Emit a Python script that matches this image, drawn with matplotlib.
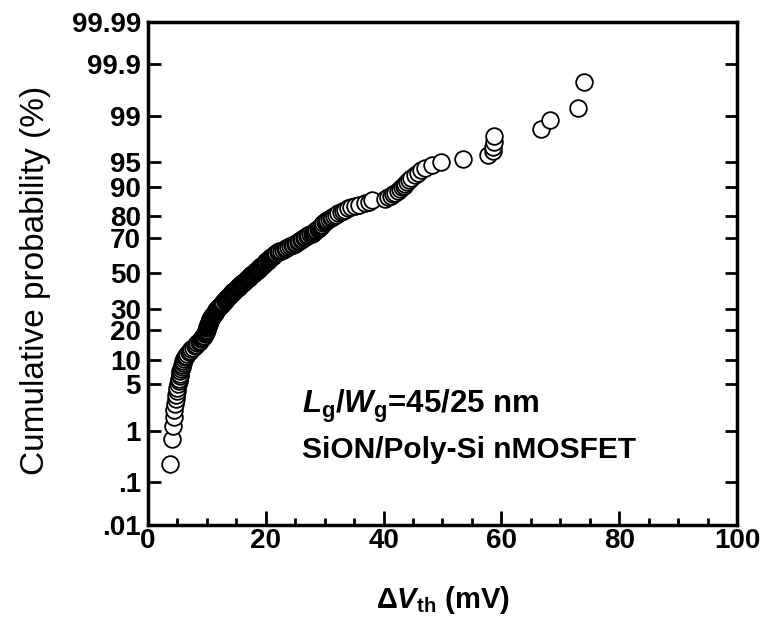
import math
import numpy as np
import matplotlib
matplotlib.use("Agg")
import matplotlib.pyplot as plt

# Delta Vth of each device, sorted (mV)
dvth = [
    3.8, 4.1, 4.3, 4.4, 4.5, 4.6, 4.7, 4.8, 4.9, 5.0,
    5.1, 5.2, 5.3, 5.4, 5.5, 5.5, 5.6, 5.7, 5.8, 5.9,
    6.0, 6.1, 6.3, 6.5, 6.7, 6.9, 7.1, 7.3, 7.6, 7.9,
    8.1, 8.3, 8.6, 8.8, 9.0, 9.2, 9.4, 9.5, 9.6, 9.7,
    9.8, 9.9, 10.0, 10.0, 10.1, 10.2, 10.2, 10.3, 10.4, 10.4, 10.5, 10.6, 10.6,
    10.7, 10.8, 10.9, 11.0, 11.2, 11.3, 11.4, 11.5, 11.6, 11.8, 11.9, 12.0, 12.2,
    12.3, 12.4, 12.6, 12.7, 12.8, 13.0, 13.1, 13.2, 13.4, 13.5, 13.6, 13.8, 13.9, 14.1,
    14.2, 14.3, 14.5, 14.6, 14.8, 14.9, 15.1, 15.2, 15.4, 15.5, 15.7, 15.8, 16.0, 16.1, 16.3, 16.4, 16.6,
    16.8, 16.9, 17.1, 17.2, 17.4, 17.5, 17.7, 17.8, 18.0, 18.2, 18.3, 18.5, 18.6, 18.8, 18.9, 19.1, 19.2,
    19.4, 19.5, 19.7, 19.8, 20.0, 20.1, 20.3, 20.4, 20.6, 20.8, 20.9, 21.1, 21.2, 21.4, 21.6, 21.8, 22.0,
    22.3, 22.6, 22.9, 23.2, 23.5, 23.8, 24.1, 24.4, 24.7, 25.0,
    25.2, 25.5, 25.7, 26.0, 26.2, 26.5, 26.7, 27.0, 27.2, 27.5, 27.8,
    28.0, 28.2, 28.4, 28.6, 28.8, 29.0, 29.2, 29.4, 29.6, 29.8, 30.0, 30.2,
    30.4, 30.7, 31.0, 31.3, 31.6, 31.9,
    32.3, 32.7, 33.1, 33.5, 33.9,
    34.5, 35.2, 35.9,
    36.8, 37.5, 38.0,
    40.3, 40.8,
    41.2, 41.6, 42.0, 42.5,
    42.8, 43.1, 43.4, 43.7, 44.0, 44.3, 44.7,
    45.3, 45.9, 46.4, 47.0,
    48.2, 49.7,
    53.5, 57.8, 58.6, 58.6, 58.7, 58.8, 66.8, 68.2, 73.0, 74.0,
]

prob_ticks = [0.01, 0.1, 1, 5, 10, 20, 30, 50, 70, 80, 90, 95, 99, 99.9, 99.99]
prob_labels = [".01", ".1", "1", "5", "10", "20", "30", "50", "70", "80",
               "90", "95", "99", "99.9", "99.99"]
x_ticks = [0, 20, 40, 60, 80, 100]

FONT = ["Liberation Sans", "DejaVu Sans"]
plt.rcParams["font.family"] = FONT
plt.rcParams["mathtext.fontset"] = "custom"
plt.rcParams["mathtext.rm"] = "Liberation Sans:bold"
plt.rcParams["mathtext.it"] = "Liberation Sans:italic:bold"
plt.rcParams["mathtext.bf"] = "Liberation Sans:bold"

# inverse normal cdf (Acklam's rational approximation), percent in
A = [-3.969683028665376e+01, 2.209460984245205e+02, -2.759285104469687e+02,
     1.383577518672690e+02, -3.066479806614716e+01, 2.506628277459239e+00]
B = [-5.447609879822406e+01, 1.615858368580409e+02, -1.556989798598866e+02,
     6.680131188771972e+01, -1.328068155288572e+01]
C = [-7.784894002430293e-03, -3.223964580411365e-01, -2.400758277161838e+00,
     -2.549671010115305e+00, 4.374664141464968e+00, 2.938163982698783e+00]
D = [7.784695709041462e-03, 3.224671290700398e-01, 2.445134137142996e+00,
     3.754408661907416e+00]


def ppf(v):
    p = np.clip(np.asarray(v, dtype=float) / 100.0, 1e-12, 1 - 1e-12)
    plow = 0.02425
    with np.errstate(all="ignore"):
        q = np.sqrt(-2 * np.log(np.where(p < 0.5, p, 1 - p)))
        tail = (((((C[0] * q + C[1]) * q + C[2]) * q + C[3]) * q + C[4]) * q + C[5]) / \
               ((((D[0] * q + D[1]) * q + D[2]) * q + D[3]) * q + 1)
        tail = np.where(p < 0.5, tail, -tail)
        qc = p - 0.5
        r = qc * qc
        mid = (((((A[0] * r + A[1]) * r + A[2]) * r + A[3]) * r + A[4]) * r + A[5]) * qc / \
              (((((B[0] * r + B[1]) * r + B[2]) * r + B[3]) * r + B[4]) * r + 1)
    return np.where((p < plow) | (p > 1 - plow), tail, mid)


_erf = np.vectorize(math.erf)


def cdf(z):
    z = np.asarray(z, dtype=float)
    return 50.0 * (1 + _erf(z / math.sqrt(2)))


n = len(dvth)
prob = (np.arange(1, n + 1) - 0.5) / n * 100  # cumulative probability (%)

fig = plt.figure(figsize=(7.6, 6.21), dpi=100)
ax = fig.add_axes([0.1947, 0.155, 0.775, 0.81])
ax.set_yscale("function", functions=(ppf, cdf))

ax.plot(dvth, prob, "o", ls="none", ms=12, mfc="white", mec="black", mew=1.3)

ax.set_xlim(0, 100)
ax.set_ylim(0.01, 99.99)
ax.set_xticks(x_ticks)
ax.set_xticks(np.arange(0, 101, 5), minor=True)
ax.set_yticks(prob_ticks)
ax.set_yticklabels(prob_labels)
ax.yaxis.set_minor_locator(matplotlib.ticker.NullLocator())

for s in ax.spines.values():
    s.set_linewidth(2.5)
ax.tick_params(axis="y", which="major", direction="in", left=True, right=True,
               length=9, width=2, pad=5)
ax.tick_params(axis="x", which="major", direction="in", top=False,
               length=10, width=2, pad=2)
ax.tick_params(axis="x", which="minor", direction="in", top=False,
               length=5, width=2)
for lab in ax.get_yticklabels():
    lab.set_fontweight("bold")
    lab.set_fontsize(20)
for lab in ax.get_xticklabels():
    lab.set_fontweight("bold")
    lab.set_fontsize(20)

fig.text(0.047, 0.548, "Cumulative probability (%)", rotation=90,
         ha="center", va="center", fontsize=24)
fig.text(0.583, 0.034, r"$\Delta\mathit{V}_{\mathrm{th}}$ (mV)",
         ha="center", va="center", fontsize=21, fontweight="bold")

ax.text(0.262, 0.222, r"$\mathit{L}_{\mathrm{g}}\mathit{/W}_{\mathrm{g}}$=45/25 nm",
        transform=ax.transAxes, ha="left", va="baseline", fontsize=22.5, fontweight="bold")
ax.text(0.262, 0.133, "SiON/Poly-Si nMOSFET",
        transform=ax.transAxes, ha="left", va="baseline", fontsize=21.5, fontweight="bold")

fig.savefig("out.png", dpi=100)
